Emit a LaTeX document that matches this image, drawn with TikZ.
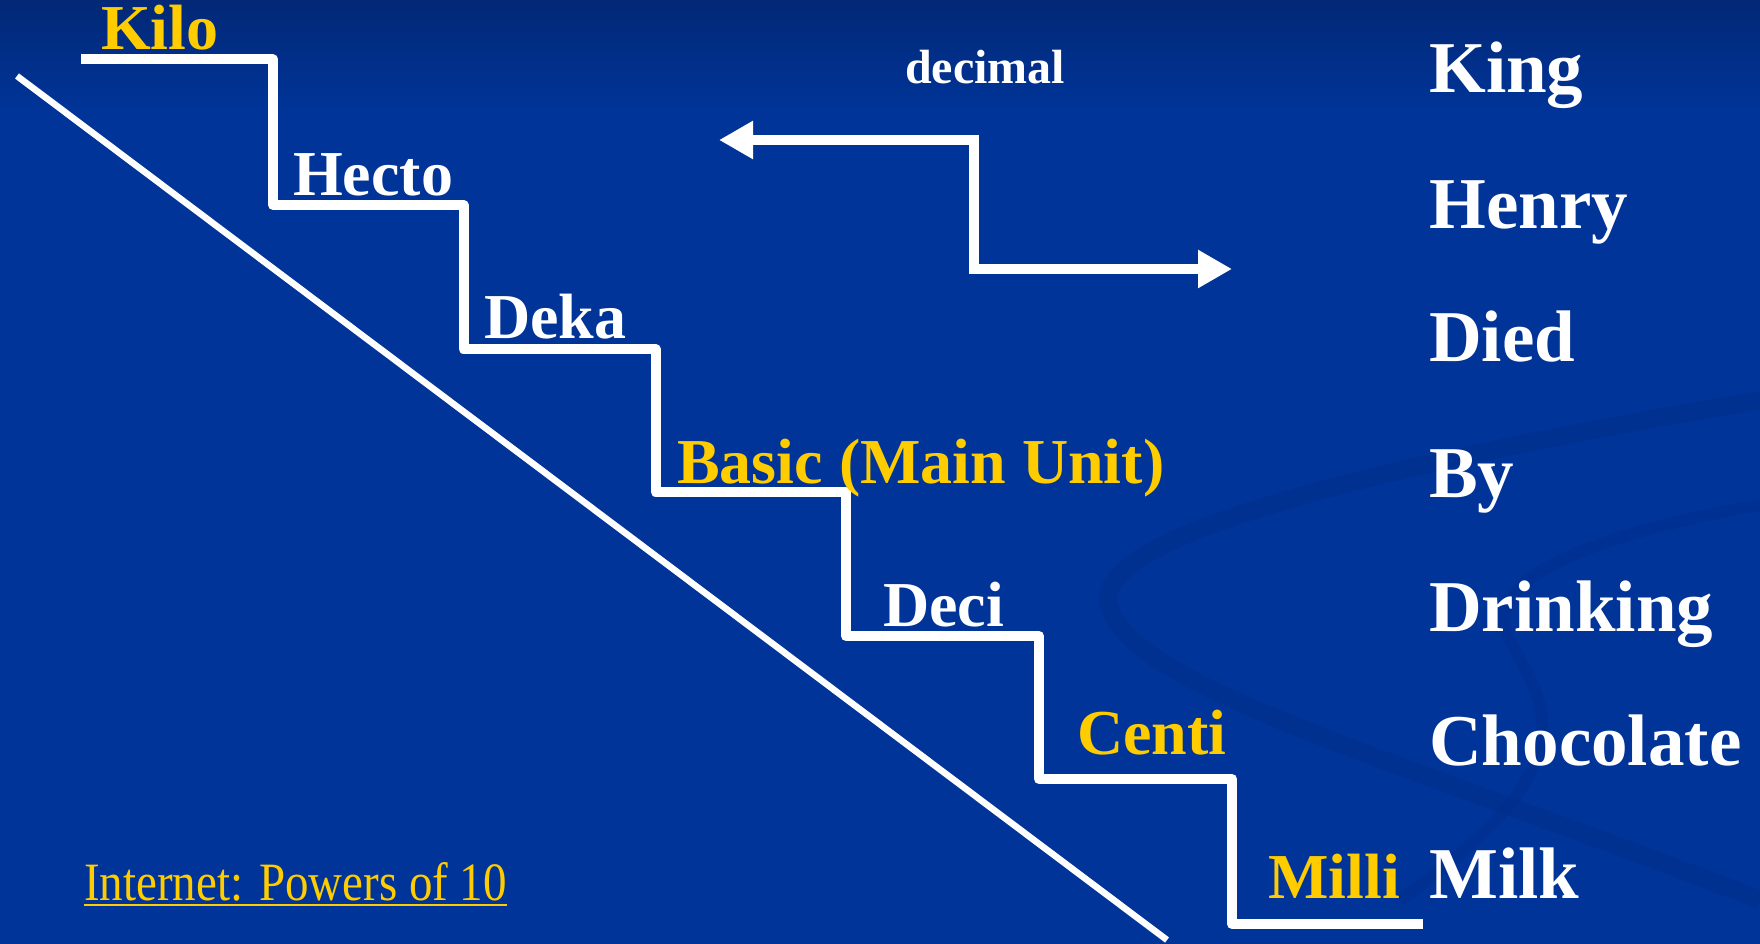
\documentclass[tikz,border=0pt]{standalone}
\usepackage{fontspec}
\setmainfont{Liberation Serif}
\usetikzlibrary{arrows.meta}
\definecolor{bgmain}{RGB}{0,52,152}
\definecolor{bgtop}{RGB}{2,40,118}
\definecolor{swirl}{RGB}{0,44,135}
\definecolor{gold}{RGB}{255,204,0}
\tikzset{
  stepword/.style={anchor=base west, inner sep=0pt, font=\fontsize{64}{70}\selectfont\bfseries},
  mnemonic/.style={anchor=base west, inner sep=0pt, text=white, font=\fontsize{73}{80}\selectfont\bfseries},
  stair/.style={draw=white, line width=10pt, line join=round},
  zigarrow/.style={draw=white, line width=10pt, {Triangle[length=34pt,width=36pt]}-{Triangle[length=34pt,width=36pt]}},
}
\begin{document}
\begin{tikzpicture}[x=1pt,y=-1pt]
% background
\fill[bgmain] (0,0) rectangle (1760,944);
\shade[top color=bgtop, bottom color=bgmain] (0,0) rectangle (1760,110);
\useasboundingbox (0,0) rectangle (1760,944);
% faint swirls
\draw[swirl, line width=18pt, opacity=0.45] (1760,400) .. controls (1350,470) and (1080,540) .. (1110,610) .. controls (1140,690) and (1400,760) .. (1760,900);
\draw[swirl, line width=12pt, opacity=0.35] (1760,505) .. controls (1560,540) and (1480,590) .. (1510,640) .. controls (1540,700) and (1600,760) .. (1400,900);
% diagonal
\draw[white, line width=6.5pt] (17,76) -- (1167,940);
% stairs
\coordinate (s0) at (81,59.5);
\coordinate (s1) at (273,205);
\coordinate (s2) at (463.5,349);
\coordinate (s3) at (655.5,491.5);
\coordinate (s4) at (846,636);
\coordinate (s5) at (1039,779);
\coordinate (s6) at (1232,924);
\coordinate (s7) at (1423,924);
\draw[stair] (s0) -| (s1) -| (s2) -| (s3) -| (s4) -| (s5) -| (s6) -- (s7);
% step labels
\node[stepword, text=gold] (kilo) at (101,50) {Kilo};
\node[stepword, text=white] (hecto) at (293,196) {Hecto};
\node[stepword, text=white] (deka) at (484,338) {Deka};
\node[stepword, text=gold] (basic) at (677,483) {Basic (Main Unit)};
\node[stepword, text=white] (deci) at (883,626) {Deci};
\node[stepword, text=gold] (centi) at (1077,754) {Centi};
\node[stepword, text=gold] (milli) at (1268,898) {Milli};
% mnemonic
\node[mnemonic] (king) at (1429,93) {King};
\node[mnemonic] (henry) at (1429,228) {Henry};
\node[mnemonic] (died) at (1429,361) {Died};
\node[mnemonic] (by) at (1429,497) {By};
\node[mnemonic] (drinking) at (1429,631) {Drinking};
\node[mnemonic] (chocolate) at (1429,765) {Chocolate};
\node[mnemonic] (milk) at (1429,898) {Milk};
% decimal arrow
\node[anchor=base, inner sep=0pt, text=white, font=\fontsize{48}{52}\selectfont\bfseries] (decimal) at (985,84) {decimal};
\coordinate (aL) at (719,140);
\coordinate (aC1) at (974,140);
\coordinate (aC2) at (974,269);
\coordinate (aR) at (1232,269);
\draw[zigarrow] (aL) -- (aC1) -- (aC2) -- (aR);
% link
\node[anchor=base west, inner sep=0pt, text=gold, font=\fontsize{54}{58}\selectfont] (link) at (84,900) {\scalebox{0.87}[1]{Internet: Powers of 10}};
\draw[gold, line width=2.5pt] ([yshift=-5pt]link.base west) -- ([yshift=-5pt]link.base east);
\end{tikzpicture}
\end{document}
